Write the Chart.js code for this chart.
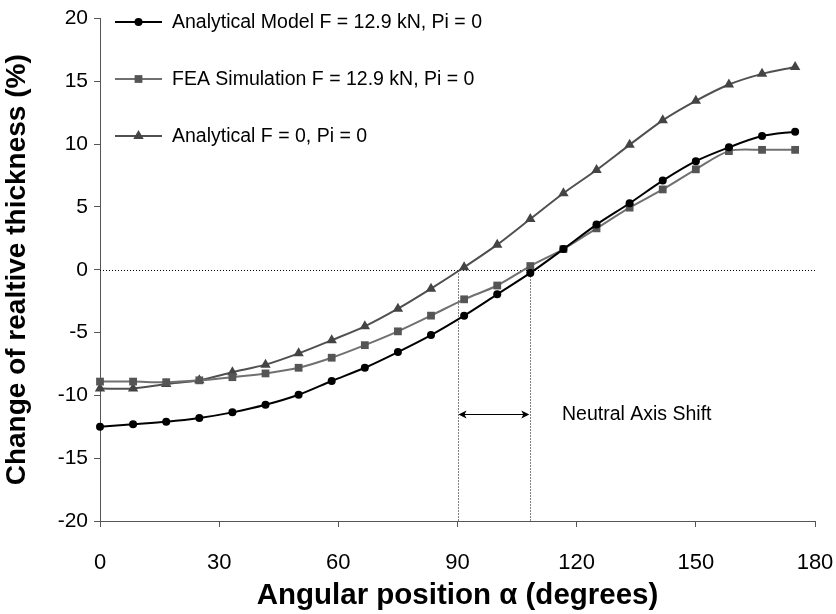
<!DOCTYPE html>
<html>
<head>
<meta charset="utf-8">
<script src="https://cdn.jsdelivr.net/npm/chart.js@4.4.1/dist/chart.umd.min.js"></script>
<style>
  html, body { margin: 0; padding: 0; background: #fff; }
</style>
</head>
<body>
<canvas id="grafico" width="836" height="614"></canvas>
<script>
// posiciones angulares (grados)
const angulos = [0, 8.33, 16.67, 25, 33.33, 41.67, 50, 58.33, 66.67, 75, 83.33,
                 91.67, 100, 108.33, 116.67, 125, 133.33, 141.67, 150, 158.33, 166.67, 175];

// cambio de espesor relativo (%)
const modeloAnalitico = [-12.5, -12.3, -12.1, -11.8, -11.35, -10.75, -9.95, -8.85, -7.8, -6.55, -5.2,
                         -3.65, -1.95, -0.25, 1.65, 3.6, 5.3, 7.1, 8.65, 9.75, 10.65, 11.0];
const simulacionFEA = [-8.9, -8.9, -8.95, -8.8, -8.55, -8.25, -7.8, -7.0, -6.0, -4.9, -3.65,
                       -2.35, -1.25, 0.3, 1.65, 3.3, 4.95, 6.4, 8.0, 9.45, 9.55, 9.55];
const analiticoSinCarga = [-9.45, -9.45, -9.1, -8.8, -8.15, -7.55, -6.65, -5.6, -4.5, -3.1, -1.5,
                           0.2, 2.0, 4.05, 6.1, 7.95, 9.95, 11.9, 13.45, 14.75, 15.6, 16.15];

const etiquetas = [
  "Analytical Model F = 12.9 kN, Pi = 0",
  "FEA Simulation F = 12.9 kN, Pi = 0",
  "Analytical F = 0, Pi = 0"
];

// eje neutro
const ejeNeutroA = 90;
const ejeNeutroB = 108.33;
const flechaY = -11.5;
const textoFlecha = "Neutral Axis Shift";

const puntos = (ys) => angulos.map((a, i) => ({ x: a, y: ys[i] }));

const estilos = [
  { linea: "#000000", punto: "#000000", forma: "circle", radio: 4 },
  { linea: "#707070", punto: "#555555", forma: "rect", radio: 5.5 },
  { linea: "#505050", punto: "#444444", forma: "triangle", radio: 6 }
];
const series = [modeloAnalitico, simulacionFEA, analiticoSinCarga];

const datasets = series.map((s, i) => ({
  label: etiquetas[i],
  data: puntos(s),
  borderColor: estilos[i].linea,
  backgroundColor: estilos[i].punto,
  pointBackgroundColor: estilos[i].punto,
  pointBorderColor: estilos[i].punto,
  pointStyle: estilos[i].forma,
  pointRadius: estilos[i].radio,
  pointBorderWidth: 0,
  borderWidth: 2,
  tension: 0.3,
  clip: false
}));

// lineas punteadas, flecha y leyenda dibujadas a mano
const anotaciones = {
  id: "anotaciones",
  beforeDatasetsDraw(chart) {
    const { ctx, scales: { x, y } } = chart;
    ctx.save();
    ctx.strokeStyle = "#000";
    ctx.lineWidth = 1;
    ctx.setLineDash([1, 2]);
    const y0 = Math.round(y.getPixelForValue(0)) + 0.5;
    ctx.beginPath();
    ctx.moveTo(x.getPixelForValue(0), y0);
    ctx.lineTo(x.getPixelForValue(180), y0);
    [ejeNeutroA, ejeNeutroB].forEach(v => {
      const px = Math.round(x.getPixelForValue(v)) + 0.5;
      ctx.moveTo(px, y0);
      ctx.lineTo(px, y.getPixelForValue(-20));
    });
    ctx.stroke();
    ctx.restore();
  },
  afterDraw(chart) {
    const { ctx, scales: { x, y } } = chart;
    ctx.save();
    // flecha doble
    const xa = x.getPixelForValue(ejeNeutroA) + 1;
    const xb = x.getPixelForValue(ejeNeutroB) - 1;
    const yf = Math.round(y.getPixelForValue(flechaY)) + 0.5;
    ctx.strokeStyle = "#000";
    ctx.fillStyle = "#000";
    ctx.lineWidth = 1;
    ctx.beginPath();
    ctx.moveTo(xa + 4, yf); ctx.lineTo(xb - 4, yf);
    ctx.stroke();
    ctx.beginPath();
    ctx.moveTo(xa, yf); ctx.lineTo(xa + 8, yf - 4); ctx.lineTo(xa + 6, yf); ctx.lineTo(xa + 8, yf + 4); ctx.closePath();
    ctx.moveTo(xb, yf); ctx.lineTo(xb - 8, yf - 4); ctx.lineTo(xb - 6, yf); ctx.lineTo(xb - 8, yf + 4); ctx.closePath();
    ctx.fill();
    ctx.font = "19.5px 'Liberation Sans', Arial, sans-serif";
    ctx.textBaseline = "middle";
    ctx.fillText(textoFlecha, x.getPixelForValue(116.3), yf);

    // leyenda
    const lx = 115, ly = 22, paso = 57;
    ctx.font = "19.5px 'Liberation Sans', Arial, sans-serif";
    chart.data.datasets.forEach((ds, i) => {
      const yy = ly + i * paso;
      ctx.strokeStyle = ds.borderColor;
      ctx.lineWidth = 2;
      ctx.beginPath();
      ctx.moveTo(lx, yy); ctx.lineTo(lx + 47, yy);
      ctx.stroke();
      ctx.fillStyle = ds.pointBackgroundColor;
      Chart.helpers.drawPoint(ctx, {
        pointStyle: ds.pointStyle, radius: ds.pointRadius, rotation: 0, borderWidth: 0
      }, lx + 23.5, yy);
      ctx.fillStyle = "#000";
      ctx.fillText(ds.label, lx + 57, yy + 1);
    });
    ctx.restore();
  }
};

const fuente = "'Liberation Sans', Arial, sans-serif";

new Chart(document.getElementById("grafico"), {
  type: "line",
  data: { datasets },
  options: {
    responsive: false,
    animation: false,
    layout: { padding: { top: 15, right: 0, left: 0, bottom: 0 } },
    plugins: { legend: { display: false }, tooltip: { enabled: false } },
    scales: {
      x: {
        type: "linear",
        min: 0, max: 180,
        border: { color: "#555", width: 1 },
        grid: { drawOnChartArea: false, tickLength: 6, color: "#555" },
        ticks: { stepSize: 30, color: "#000", font: { family: fuente, size: 22 }, padding: 23, maxRotation: 0 },
        title: { display: true, text: "Angular position α (degrees)", color: "#000",
                 font: { family: fuente, size: 29.5, weight: "bold" }, padding: 0 },
        afterFit: (s) => { s.height = 93; s.paddingRight = 21; s.paddingLeft = 0; }
      },
      y: {
        min: -20, max: 20,
        border: { color: "#555", width: 1 },
        grid: { drawOnChartArea: false, tickLength: 6, color: "#555" },
        ticks: { stepSize: 5, color: "#000", font: { family: fuente, size: 21 }, padding: 6 },
        title: { display: true, text: "Change of realtive thickness (%)", color: "#000",
                 font: { family: fuente, size: 28, weight: "bold" }, padding: 0 },
        afterFit: (s) => { s.width = 100; }
      }
    }
  },
  plugins: [anotaciones]
});
</script>
</body>
</html>
